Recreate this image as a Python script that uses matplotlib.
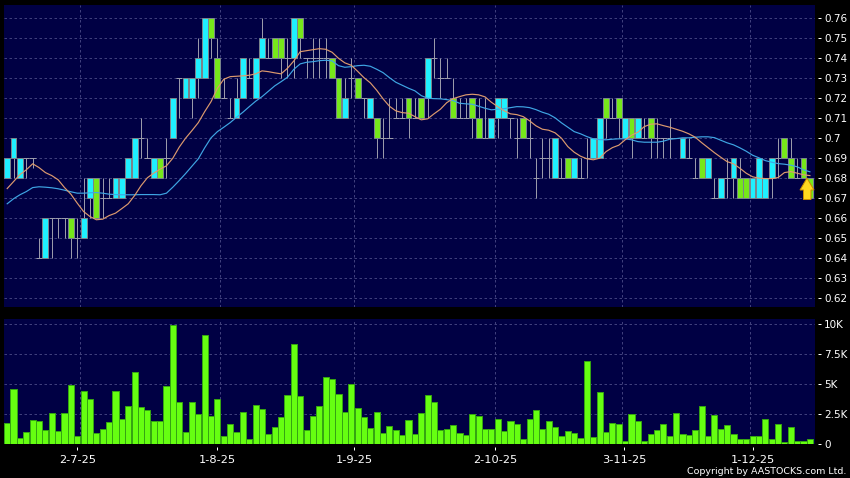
import matplotlib
matplotlib.use("Agg")
import matplotlib.pyplot as plt
from matplotlib.patches import Polygon

# ===============================
# DATA
# ===============================
body_lo = [.68, .69, .68, .69, .69, .64, .64, .66, .66, .66, .65, .65, .65, .67, .66, .67, .67, .67, .67, .68,
           .68, .70, .69, .68, .68, .69, .70, .73, .72, .72, .73, .73, .75, .72, .72, .71, .71, .72, .73, .72,
           .74, .74, .74, .74, .74, .74, .75, .74, .74, .74, .74, .73, .71, .71, .73, .72, .72, .71, .70, .70,
           .70, .71, .71, .71, .71, .71, .72, .74, .73, .73, .71, .71, .71, .71, .70, .70, .70, .71, .71, .71,
           .70, .70, .70, .68, .69, .69, .68, .68, .68, .68, .68, .69, .69, .69, .71, .71, .71, .70, .70, .70,
           .70, .70, .70, .70, .70, .70, .69, .69, .68, .68, .68, .67, .67, .68, .68, .67, .67, .67, .67, .67,
           .68, .69, .69, .68, .68, .68, .67]
body_hi = [.69, .70, .69, .69, .69, .64, .66, .66, .66, .66, .66, .65, .66, .68, .68, .67, .67, .68, .68, .69,
           .70, .70, .69, .69, .69, .69, .72, .73, .73, .73, .74, .76, .76, .74, .72, .71, .72, .74, .73, .74,
           .75, .74, .75, .75, .74, .76, .76, .74, .74, .74, .74, .74, .73, .72, .73, .73, .72, .72, .71, .70,
           .70, .71, .71, .72, .71, .72, .74, .74, .73, .73, .72, .71, .71, .72, .71, .70, .71, .72, .72, .71,
           .70, .71, .70, .68, .69, .69, .70, .68, .69, .69, .68, .69, .70, .71, .72, .71, .72, .71, .71, .71,
           .70, .71, .70, .70, .70, .70, .70, .69, .68, .69, .69, .67, .68, .68, .69, .68, .68, .68, .69, .68,
           .69, .69, .70, .69, .68, .69, .68]
lows = [.68, .68, .68, .68, .685, .64, .64, .64, .65, .65, .64, .64, .65, .66, .66, .66, .67, .67, .67, .68,
        .68, .69, .69, .68, .68, .68, .70, .71, .72, .71, .72, .73, .74, .72, .72, .71, .71, .72, .73, .72,
        .74, .74, .74, .73, .73, .73, .74, .73, .73, .73, .73, .73, .71, .71, .72, .72, .71, .71, .69, .69,
        .70, .71, .71, .70, .71, .71, .71, .73, .72, .73, .71, .71, .71, .70, .70, .70, .70, .70, .71, .70,
        .69, .70, .69, .67, .68, .68, .68, .68, .68, .68, .68, .68, .69, .69, .70, .71, .70, .70, .69, .70,
        .70, .69, .69, .69, .69, .70, .69, .69, .68, .68, .68, .67, .67, .67, .67, .67, .67, .67, .67, .67,
        .67, .68, .69, .68, .68, .68, .67]
highs = [.69, .70, .69, .69, .69, .65, .66, .66, .66, .66, .66, .66, .68, .68, .68, .68, .68, .68, .68, .69,
         .70, .71, .70, .69, .69, .70, .72, .73, .73, .73, .75, .76, .76, .75, .73, .72, .73, .74, .74, .74,
         .76, .75, .75, .75, .75, .76, .76, .74, .75, .75, .75, .74, .73, .73, .74, .73, .72, .72, .71, .71,
         .72, .72, .72, .72, .72, .72, .74, .75, .74, .74, .73, .72, .72, .72, .72, .72, .71, .72, .72, .71,
         .71, .71, .71, .69, .70, .70, .70, .69, .69, .69, .69, .70, .70, .71, .72, .72, .72, .71, .71, .71,
         .71, .71, .71, .70, .71, .70, .70, .70, .69, .69, .69, .68, .68, .69, .69, .69, .68, .68, .69, .68,
         .69, .70, .70, .70, .69, .69, .68]
# days drawn cyan, the other non-flat days are green
cyan_days = [0, 1, 2, 6, 12, 13, 17, 18, 19, 20, 23, 26, 28, 29, 30, 31, 36, 37, 39, 40, 45, 53, 57, 66, 76, 77, 78,
             86, 89, 92, 93, 97, 99, 106, 110, 112, 114, 117, 118, 119, 120]

ma_short = [.6748, .6783, .6818, .6842, .6872, .6853, .6828, .6813, .6792, .6753, .672, .6675, .6633, .6608, .6592,
            .6595, .6613, .6625, .6648, .6672, .6713, .6762, .6802, .6825, .6845, .6862, .69, .6955, .70, .7038,
            .7078, .7133, .7183, .725, .7295, .7308, .731, .7312, .7315, .7322, .7337, .7333, .7327, .7322, .735,
            .7387, .7433, .7438, .7443, .7448, .7445, .743, .74, .7377, .7365, .7335, .7303, .7277, .724, .7197,
            .716, .7137, .7128, .7125, .7108, .7092, .7097, .7122, .7145, .7178, .7198, .7208, .7217, .722, .7217,
            .7207, .718, .7158, .7137, .7122, .7118, .7108, .7087, .7062, .7045, .704, .7027, .70, .6958, .693,
            .691, .6897, .6892, .69, .6933, .6953, .6965, .6992, .7015, .703, .7058, .707, .7072, .7063, .7055,
            .7045, .7035, .7022, .7005, .6978, .6953, .6928, .6905, .6883, .6872, .685, .6825, .6807, .68, .6798,
            .6798, .6803, .6828, .6833, .6825, .6817, .6813]
ma_long = [.6672, .6697, .6717, .6733, .6753, .6757, .6755, .6752, .6747, .674, .6732, .6725, .6725, .6727, .6728,
           .6725, .672, .6718, .6717, .6717, .6717, .6718, .6718, .6718, .6717, .6725, .6755, .6788, .6823, .686,
           .6897, .6952, .7002, .7033, .7055, .7078, .7105, .713, .7158, .7185, .7208, .7235, .7262, .7283, .7305,
           .7345, .7372, .738, .7383, .7388, .739, .7387, .7363, .7355, .7358, .7363, .7365, .736, .7345, .7328,
           .7303, .728, .7265, .725, .7237, .7213, .72, .7198, .7197, .7193, .7188, .7175, .7172, .717, .716,
           .715, .7142, .7145, .7148, .7153, .7158, .7157, .7153, .7143, .713, .712, .7102, .7077, .7055, .7033,
           .7022, .7008, .6997, .6993, .6992, .6995, .6997, .6997, .6992, .6983, .698, .698, .698, .6985, .6995,
           .6998, .7002, .7002, .7005, .7007, .7007, .7003, .699, .6977, .6967, .6952, .6935, .6915, .6902, .6888,
           .688, .6873, .687, .6865, .6857, .6842, .6832]

volume = [1.74, 4.6, .5, .98, 1.99, 1.88, 1.15, 2.55, 1.06, 2.6, 4.9, .64, 4.43, 3.73, .9, 1.18, 1.82, 4.4, 2.02,
          3.11, 6.0, 3.08, 2.83, 1.88, 1.85, 4.85, 9.95, 3.47, .95, 3.45, 2.46, 9.08, 2.3, 3.78, .67, 1.62, 1.0,
          2.63, .39, 3.22, 2.86, .78, 1.4, 2.24, 4.06, 8.35, 4.03, 1.15, 2.3, 3.11, 5.57, 5.43, 4.17, 2.63, 5.01,
          2.97, 2.21, 1.29, 2.66, .87, 1.51, 1.12, .7, 1.99, .78, 2.6, 4.06, 3.47, 1.12, 1.2, 1.54, .87, .7, 2.46,
          2.35, 1.26, 1.2, 2.02, 1.04, 1.9, 1.65, .39, 2.04, 2.8, 1.23, 1.88, 1.4, .62, 1.04, .87, .5, 6.92, .53,
          4.31, .95, 1.76, 1.62, .25, 2.49, 1.85, .17, .78, 1.15, 1.6, .59, 2.55, .78, .73, 1.12, 3.19, .64, 2.41,
          1.26, 1.54, .81, .39, .42, .62, .62, 2.07, .36, 1.68, .14, 1.4, .2, .22, .36]

price_ticks = [.76, .75, .74, .73, .72, .71, .70, .69, .68, .67, .66, .65, .64, .63, .62]
price_labels = ["0.76", "0.75", "0.74", "0.73", "0.72", "0.71", "0.7", "0.69", "0.68", "0.67", "0.66", "0.65",
                "0.64", "0.63", "0.62"]
vol_ticks = [10, 7.5, 5, 2.5, 0]
vol_labels = ["10K", "7.5K", "5K", "2.5K", "0"]
grid_days = [11.45, 33.45, 54.46, 76.6, 96.5, 116.6]
date_days = [11, 33, 54.46, 76.6, 96.8, 117.1]
date_labels = ["2-7-25", "1-8-25", "1-9-25", "2-10-25", "3-11-25", "1-12-25"]

# ===============================
# PLOT
# ===============================
W, H = 850, 478
PX = 0.72  # one pixel in points
BG = "#000044"
GRID = "#3f3f7c"
CYAN = "#1ff0ff"
GREEN = "#76e81a"
EDGE = "#78848c"
WICK = "#9a9aaa"
DASHES = (0, (2.5, 2.5))


def panel(left, top, right, bottom):
    return fig.add_axes([left / W, 1 - bottom / H, (right - left) / W, (bottom - top) / H], facecolor=BG)


fig = plt.figure(figsize=(W / 100, H / 100), dpi=100, facecolor="black")
ax = panel(4, 5, 815, 306.5)
ax2 = panel(4, 319, 815, 443.5)

days = list(range(len(volume)))

for a in (ax, ax2):
    a.set_xlim(-0.5, 126.8)
    for s in a.spines.values():
        s.set_visible(False)
    a.set_axisbelow(True)
    a.yaxis.tick_right()
    a.tick_params(axis="y", colors="white", labelsize=7.5, length=0, pad=6.5)
    a.grid(axis="y", color=GRID, lw=PX, ls=DASHES, zorder=1)
    a.vlines(grid_days, 0, 1, transform=a.get_xaxis_transform(), color=GRID, lw=PX, ls=DASHES, zorder=1)

# price panel
ax.set_ylim(.6158, .76665)
ax.set_yticks(price_ticks)
ax.set_yticklabels(price_labels)
ax.set_xticks([])

ax.vlines(days, lows, highs, color=WICK, lw=PX, zorder=2)
for d, lo, hi in zip(days, body_lo, body_hi):
    if lo == hi:
        ax.hlines(lo, d - 0.5, d + 0.5, color=WICK, lw=PX, zorder=2)
    else:
        ax.bar(d, hi - lo, bottom=lo, width=0.92, color=CYAN if d in cyan_days else GREEN,
               edgecolor=EDGE, linewidth=PX, zorder=3)

ax.plot(days, ma_long, color="#3fa6e4", lw=0.85, zorder=4)
ax.plot(days, ma_short, color="#dd9a6e", lw=0.85, zorder=5)

# volume panel
ax2.set_ylim(0, 10.46)
ax2.set_yticks(vol_ticks)
ax2.set_yticklabels(vol_labels)
ax2.bar(days, volume, width=0.96, color="#66ff11", edgecolor="#35a512", linewidth=PX, zorder=3)
ax2.set_xticks(date_days)
ax2.set_xticklabels(date_labels)
ax2.tick_params(axis="x", colors="white", labelsize=8.2, length=0, pad=8)

# small detached tick dashes
ax.hlines(price_ticks, 1.0034, 1.0071, transform=ax.get_yaxis_transform(), color="white", lw=PX, clip_on=False)
ax2.hlines(vol_ticks, 1.0034, 1.0071, transform=ax2.get_yaxis_transform(), color="white", lw=PX, clip_on=False)
ax2.vlines(date_days, -0.03, -0.05, transform=ax2.get_xaxis_transform(), color="white", lw=PX, clip_on=False)

# last price arrow, pixel positions
arrow = [(800, 190), (803.5, 190), (803.5, 199.5), (811, 199.5), (811, 190), (814, 190), (807, 178)]
fig.add_artist(Polygon([(x / W, 1 - y / H) for x, y in arrow], closed=True, transform=fig.transFigure,
                       facecolor="#ffd81f", edgecolor="#c88a00", linewidth=PX, zorder=10))

fig.text(846 / W, 1 - 471 / H, "Copyright by AASTOCKS.com Ltd.", color="white", fontsize=6.8, ha="right", va="center")

plt.savefig("out.png", dpi=100, facecolor="black")
